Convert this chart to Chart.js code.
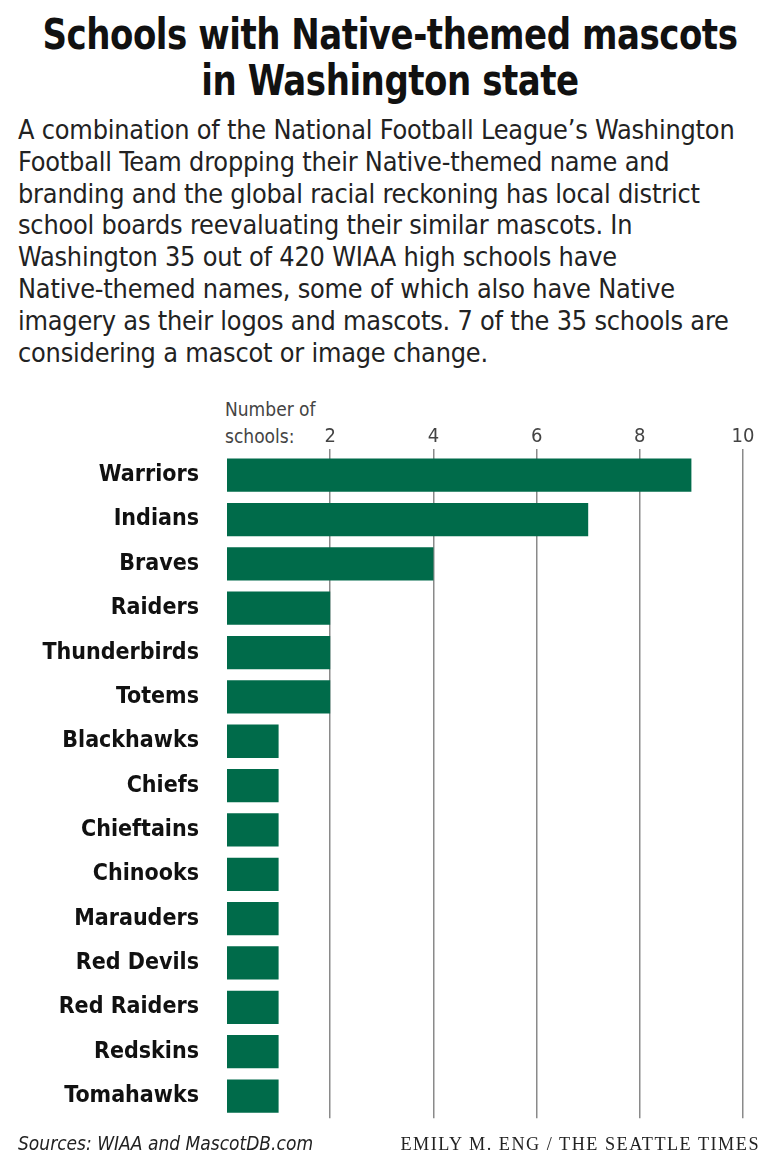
<!DOCTYPE html>
<html>
<head>
<meta charset="utf-8">
<script src="https://cdn.jsdelivr.net/npm/chart.js@4/dist/chart.umd.min.js"></script>
<style>
  body { margin: 0; background: #fff; width: 780px; height: 1162px; position: relative; overflow: hidden; font-family: "DejaVu Sans Condensed", "Liberation Sans Narrow", sans-serif; color: #111; }
  h1 { position: absolute; top: 12px; left: 0; width: 780px; margin: 0; text-align: center; font-size: 42px; line-height: 46px; font-weight: bold; letter-spacing: -0.5px; transform: scaleX(0.9); transform-origin: center top; }
  .intro { position: absolute; top: 114px; left: 18px; width: 770px; margin: 0; font-size: 26.8px; line-height: 31.8px; color: #222; white-space: nowrap; letter-spacing: -0.2px; }
  .unit { position: absolute; top: 396px; left: 225px; font-size: 19px; line-height: 27px; color: #444; }
  .chart-box { position: absolute; top: 395px; left: 0; width: 780px; height: 757px; }
  .source { position: absolute; top: 1132px; left: 18px; font-size: 19px; font-style: italic; color: #222; }
  .credit { position: absolute; top: 1134px; right: 20px; font-family: "Liberation Serif", "DejaVu Serif", serif; font-size: 18.2px; letter-spacing: 1.5px; color: #222; }
</style>
</head>
<body>
<h1>Schools with Native-themed mascots<br>in Washington state</h1>
<p class="intro">A combination of the National Football League’s Washington<br>Football Team dropping their Native-themed name and<br>branding and the global racial reckoning has local district<br>school boards reevaluating their similar mascots. In<br>Washington 35 out of 420 WIAA high schools have<br>Native-themed names, some of which also have Native<br>imagery as their logos and mascots. 7 of the 35 schools are<br>considering a mascot or image change.</p>
<div class="unit">Number of<br>schools:</div>
<div class="chart-box"><canvas id="mascotChart" width="780" height="757"></canvas></div>
<div class="source">Sources: WIAA and MascotDB.com</div>
<div class="credit">EMILY M. ENG / THE SEATTLE TIMES</div>

<script>
// Chart data
const mascots = ['Warriors', 'Indians', 'Braves', 'Raiders', 'Thunderbirds', 'Totems', 'Blackhawks', 'Chiefs', 'Chieftains', 'Chinooks', 'Marauders', 'Red Devils', 'Red Raiders', 'Redskins', 'Tomahawks'];
const schoolCounts = [9, 7, 4, 2, 2, 2, 1, 1, 1, 1, 1, 1, 1, 1, 1];
const tickValues = [2, 4, 6, 8, 10];

const barColor = '#006b4a';
const gridColor = '#8a8a8a';
const fontFamily = '"DejaVu Sans Condensed", "Liberation Sans Narrow", sans-serif';

const ctx = document.getElementById('mascotChart');
new Chart(ctx, {
    type: 'bar',
    data: {
        labels: mascots,
        datasets: [{
            data: schoolCounts,
            backgroundColor: barColor,
            categoryPercentage: 1,
            barPercentage: 0.75
        }]
    },
    options: {
        indexAxis: 'y',
        responsive: false,
        animation: false,
        layout: { padding: { top: 30, right: 37, bottom: 19, left: 10 } },
        plugins: {
            legend: { display: false },
            tooltip: { enabled: false }
        },
        scales: {
            x: {
                position: 'top',
                min: 0,
                max: 10,
                afterBuildTicks: (axis) => {
                    axis.ticks = tickValues.map(v => ({ value: v }));
                },
                ticks: {
                    color: '#444',
                    font: { family: fontFamily, size: 20 },
                    padding: 0
                },
                grid: {
                    color: gridColor,
                    lineWidth: 1.5,
                    drawTicks: true,
                    tickLength: 4
                },
                border: { display: false }
            },
            y: {
                afterFit: (axis) => { axis.width = 217; },
                ticks: {
                    color: '#111',
                    font: { family: fontFamily, size: 23, weight: 'bold' },
                    padding: 20
                },
                grid: { display: false },
                border: { display: false }
            }
        }
    }
});
</script>
</body>
</html>
